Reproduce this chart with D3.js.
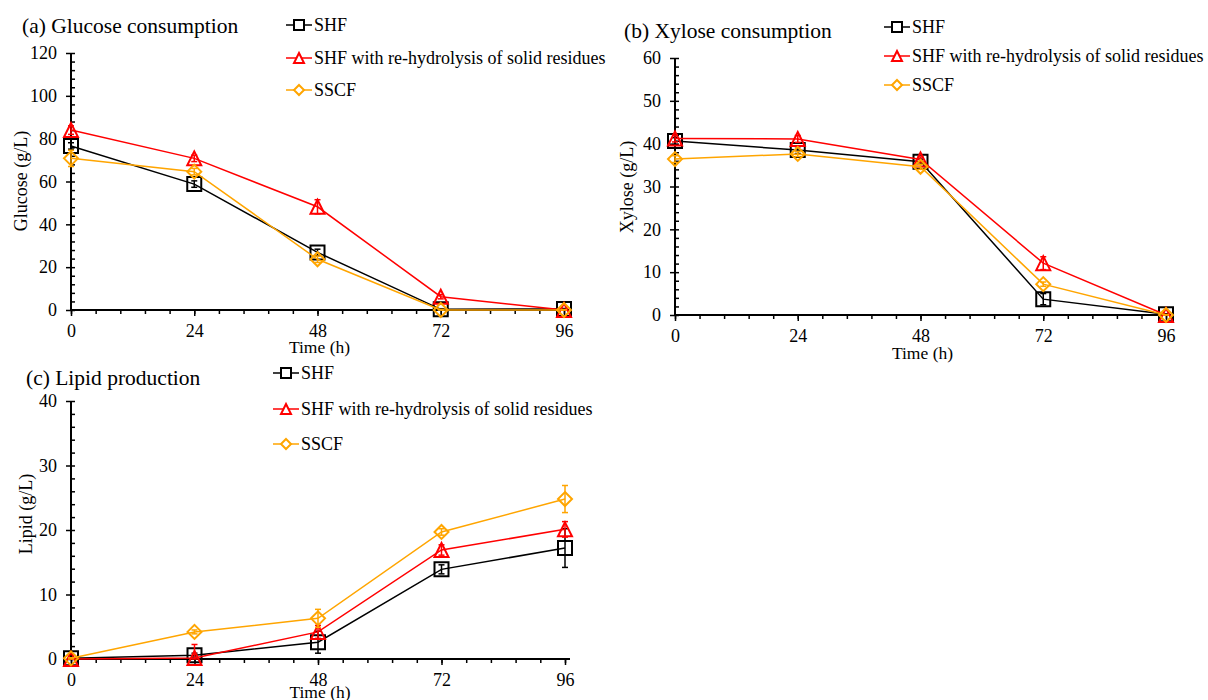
<!DOCTYPE html>
<html>
<head>
<meta charset="utf-8">
<script src="https://cdn.jsdelivr.net/npm/d3@7"></script>
<style>
  body { margin: 0; background: #fff; }
  svg text { font-family: "Liberation Serif", "Times New Roman", serif; fill: #000; }
</style>
</head>
<body>
<svg id="chart" width="1208" height="700"></svg>
<script>
// data
var hours = [0, 24, 48, 72, 96];
var seriesNames = ["SHF", "SHF with re-hydrolysis of solid residues", "SSCF"];
var seriesColors = ["#000000", "#ff0000", "#ffa500"];
var seriesShapes = ["square", "triangle", "diamond"];

var glucoseSHF  = [76.6, 58.8, 26.9, 0.3, 0.5];
var glucoseReH  = [84.0, 70.8, 48.2, 6.2, 0.0];
var glucoseSSCF = [70.8, 64.6, 23.7, 0.0, 0.0];
var glucoseErrSHF  = [1.5, 1.5, 1.5, 0.3, 0.2];
var glucoseErrReH  = [2.0, 1.5, 3.3, 1.0, 0.2];
var glucoseErrSSCF = [3.8, 1.5, 1.5, 0.3, 0.2];

var xyloseSHF  = [40.6, 38.5, 35.8, 3.7, 0.2];
var xyloseReH  = [41.2, 41.1, 36.3, 12.1, 0.0];
var xyloseSSCF = [36.4, 37.6, 34.6, 7.2, 0.0];
var xyloseErrSHF  = [0.8, 0.8, 0.6, 1.3, 0.1];
var xyloseErrReH  = [0.8, 0.8, 0.6, 1.5, 0.1];
var xyloseErrSSCF = [0.8, 0.6, 0.6, 0.5, 0.1];

var lipidSHF  = [0.1, 0.6, 2.6, 13.9, 17.2];
var lipidReH  = [0.0, 0.15, 4.2, 16.9, 20.1];
var lipidSSCF = [0.1, 4.2, 6.3, 19.7, 24.8];
var lipidErrSHF  = [0.2, 0.3, 1.7, 0.7, 3.0];
var lipidErrReH  = [0.1, 2.1, 1.0, 0.8, 1.2];
var lipidErrSSCF = [0.1, 0.3, 1.4, 0.5, 2.1];

var xTicks = [0, 24, 48, 72, 96];
var glucoseTicks = [0, 20, 40, 60, 80, 100, 120];
var xyloseTicks = [0, 10, 20, 30, 40, 50, 60];
var lipidTicks = [0, 10, 20, 30, 40];

var svg = d3.select("#chart");

var panels = [
  {title: "(a) Glucose consumption", yLabel: "Glucose (g/L)", yMax: 120, yTicks: glucoseTicks, yMinor: 4,
   series: [glucoseSHF, glucoseReH, glucoseSSCF], errors: [glucoseErrSHF, glucoseErrReH, glucoseErrSSCF],
   x0: 71, x1: 564, yTop: 53, yBot: 310, titleX: 22, titleY: 33, yLabX: 21, yLabY: 181, timeY: 353,
   legX: 286, legY: [25, 58, 90]},
  {title: "(b) Xylose consumption", yLabel: "Xylose (g/L)", yMax: 60, yTicks: xyloseTicks, yMinor: 2,
   series: [xyloseSHF, xyloseReH, xyloseSSCF], errors: [xyloseErrSHF, xyloseErrReH, xyloseErrSSCF],
   x0: 675, x1: 1166, yTop: 58, yBot: 315, titleX: 624, titleY: 38, yLabX: 627, yLabY: 187, timeY: 359,
   legX: 884, legY: [27, 56, 85]},
  {title: "(c) Lipid production", yLabel: "Lipid (g/L)", yMax: 40, yTicks: lipidTicks, yMinor: 2,
   series: [lipidSHF, lipidReH, lipidSSCF], errors: [lipidErrSHF, lipidErrReH, lipidErrSSCF],
   x0: 71, x1: 565, yTop: 401, yBot: 659, titleX: 26, titleY: 385, yLabX: 26, yLabY: 514, timeY: 698,
   legX: 273, legY: [373, 409, 444]}
];

function markerPath(shape, s) {
  var h = s / 2;
  if (shape == "square") return "M" + (-h) + "," + (-h) + "H" + h + "V" + h + "H" + (-h) + "Z";
  if (shape == "triangle") return "M0," + (-h) + "L" + h + "," + h + "L" + (-h) + "," + h + "Z";
  return "M0," + (-h) + "L" + h + ",0L0," + h + "L" + (-h) + ",0Z";
}

panels.forEach(function(p) {
  var x = d3.scaleLinear().domain([0, 96]).range([p.x0, p.x1]);
  var y = d3.scaleLinear().domain([0, p.yMax]).range([p.yBot, p.yTop]);
  var g = svg.append("g");

  // x axis: minor ticks then major ticks with labels
  g.append("g").attr("transform", "translate(0," + p.yBot + ")")
    .call(d3.axisBottom(x).tickValues(d3.range(0, 96.1, 4.8)).tickSize(4).tickFormat("").tickSizeOuter(0))
    .call(function(a) { a.select(".domain").remove(); a.selectAll("line").attr("stroke-width", 1.5); });
  var xa = g.append("g").attr("transform", "translate(0," + p.yBot + ")")
    .call(d3.axisBottom(x).tickValues(xTicks).tickSize(6).tickSizeOuter(0).tickPadding(8));
  xa.select(".domain").remove();
  xa.selectAll("line").attr("stroke-width", 1.5);
  xa.selectAll("text").attr("font-size", 18);
  g.append("line").attr("x1", p.x0).attr("x2", p.x1 + 5).attr("y1", p.yBot).attr("y2", p.yBot)
    .attr("stroke", "#000").attr("stroke-width", 2);

  // y axis: minor ticks inside, major outside
  g.append("g").attr("transform", "translate(" + p.x0 + ",0)")
    .call(d3.axisRight(y).tickValues(d3.range(0, p.yMax + 0.01, p.yMinor)).tickSize(4).tickFormat("").tickSizeOuter(0))
    .call(function(a) { a.select(".domain").remove(); a.selectAll("line").attr("stroke-width", 1.5); });
  var ya = g.append("g").attr("transform", "translate(" + p.x0 + ",0)")
    .call(d3.axisLeft(y).tickValues(p.yTicks).tickSize(5).tickSizeOuter(0).tickPadding(9));
  ya.select(".domain").remove();
  ya.selectAll("line").attr("stroke-width", 1.5);
  ya.selectAll("text").attr("font-size", 18);
  g.append("line").attr("x1", p.x0).attr("x2", p.x0).attr("y1", p.yBot).attr("y2", p.yTop)
    .attr("stroke", "#000").attr("stroke-width", 2);

  // labels
  g.append("text").attr("x", p.titleX).attr("y", p.titleY).attr("font-size", 21.5).text(p.title);
  g.append("text").attr("transform", "translate(" + p.yLabX + "," + p.yLabY + ") rotate(-90)")
    .attr("text-anchor", "middle").attr("dy", "0.35em").attr("font-size", 18).text(p.yLabel);
  g.append("text").attr("x", (p.x0 + p.x1) / 2 + 2).attr("y", p.timeY).attr("text-anchor", "middle")
    .attr("font-size", 17.5).text("Time (h)");

  var line = d3.line().x(function(d, i) { return x(hours[i]); }).y(function(d) { return y(d); });

  p.series.forEach(function(vals, k) {
    var col = seriesColors[k];
    var sg = g.append("g");
    sg.append("path").datum(vals).attr("d", line).attr("fill", "none").attr("stroke", col).attr("stroke-width", 1.5);
    var errs = p.errors[k];
    var eb = sg.selectAll(".err").data(vals).enter().append("g");
    eb.append("line")
      .attr("x1", function(d, i) { return x(hours[i]); }).attr("x2", function(d, i) { return x(hours[i]); })
      .attr("y1", function(d, i) { return y(d + errs[i]); }).attr("y2", function(d, i) { return y(Math.max(0, d - errs[i])); })
      .attr("stroke", col).attr("stroke-width", 1.5);
    [1, -1].forEach(function(sgn) {
      eb.append("line")
        .attr("x1", function(d, i) { return x(hours[i]) - 3; }).attr("x2", function(d, i) { return x(hours[i]) + 3; })
        .attr("y1", function(d, i) { return y(Math.max(0, d + sgn * errs[i])); })
        .attr("y2", function(d, i) { return y(Math.max(0, d + sgn * errs[i])); })
        .attr("stroke", col).attr("stroke-width", 1.5);
    });
    sg.selectAll(".mk").data(vals).enter().append("path")
      .attr("transform", function(d, i) { return "translate(" + x(hours[i]) + "," + y(d) + ")"; })
      .attr("d", markerPath(seriesShapes[k], 14))
      .attr("fill", "none").attr("stroke", col).attr("stroke-width", 2);
  });

  // legend
  seriesNames.forEach(function(name, k) {
    var ly = p.legY[k];
    var lg = g.append("g");
    lg.append("line").attr("x1", p.legX).attr("x2", p.legX + 26).attr("y1", ly).attr("y2", ly)
      .attr("stroke", seriesColors[k]).attr("stroke-width", 1.5);
    lg.append("path").attr("transform", "translate(" + (p.legX + 13) + "," + ly + ")")
      .attr("d", markerPath(seriesShapes[k], 10)).attr("fill", "#fff")
      .attr("stroke", seriesColors[k]).attr("stroke-width", 2);
    lg.append("text").attr("x", p.legX + 28).attr("y", ly).attr("dy", "0.35em").attr("font-size", 18).text(name);
  });
});
</script>
</body>
</html>
